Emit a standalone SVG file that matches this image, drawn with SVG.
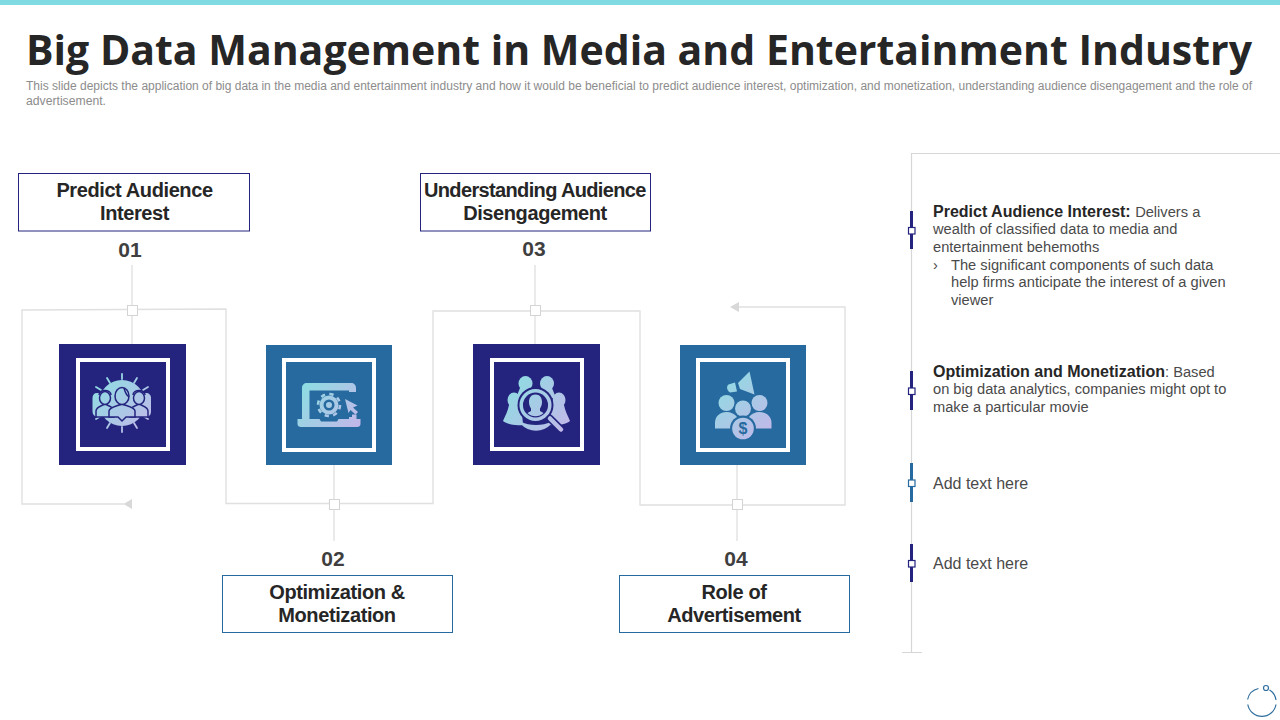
<svg xmlns="http://www.w3.org/2000/svg" width="1280" height="720" viewBox="0 0 1280 720">
<style>
text{font-family:"Liberation Sans",Arial,sans-serif}
.title{font-family:"Open Sans","Noto Sans",sans-serif;font-weight:700;font-size:42px;fill:#262626}
.sub{font-size:12px;fill:#8c8c8c}
.lab{font-size:20px;font-weight:700;fill:#262626;text-anchor:middle;letter-spacing:-0.400px}
.num{font-size:21px;font-weight:700;fill:#3f3f3f;text-anchor:middle}
.body{font-size:14.670px;fill:#4a4a4a}
.body .b{font-size:16px;font-weight:700;fill:#262626}
.add{font-size:16px;fill:#4a4a4a}
.wire{fill:none;stroke:#e0e0e0;stroke-width:1.400}
.stem{fill:none;stroke:#dcdcdc;stroke-width:1.200}
.sq{fill:#fff;stroke:#d4d4d4;stroke-width:1}
.arr{fill:#d8d8d8}
.navy{fill:#24247f}
.blue{fill:#266a9f}
.frame{fill:none;stroke:#fff;stroke-width:4}
.lbn{fill:#fff;stroke:#24247f;stroke-width:1}
.lbb{fill:#fff;stroke:#266a9f;stroke-width:1}
.rule{fill:none;stroke:#d6d6d6;stroke-width:1.200}
</style>
<defs>
<linearGradient id="g1" gradientUnits="userSpaceOnUse" x1="95" y1="375" x2="150" y2="432"><stop offset="0" stop-color="#8adfe2"/><stop offset="1" stop-color="#c5b6e9"/></linearGradient>
<linearGradient id="g2" gradientUnits="userSpaceOnUse" x1="300" y1="383" x2="360" y2="428"><stop offset="0" stop-color="#8adfe2"/><stop offset="1" stop-color="#c5b6e9"/></linearGradient>
<linearGradient id="g3" gradientUnits="userSpaceOnUse" x1="505" y1="378" x2="570" y2="432"><stop offset="0" stop-color="#8adfe2"/><stop offset="1" stop-color="#c5b6e9"/></linearGradient>
<linearGradient id="g4" gradientUnits="userSpaceOnUse" x1="715" y1="375" x2="772" y2="435"><stop offset="0" stop-color="#8adfe2"/><stop offset="1" stop-color="#c5b6e9"/></linearGradient>
</defs>
<rect id="top-bar" x="0" y="0" width="1280" height="5" fill="#7fdae2"/>
<text class="title" x="26" y="65" textLength="1226" lengthAdjust="spacingAndGlyphs">Big Data Management in Media and Entertainment Industry</text>
<text class="sub" x="26" y="90" textLength="1226" lengthAdjust="spacingAndGlyphs">This slide depicts the application of big data in the media and entertainment industry and how it would be beneficial to predict audience interest, optimization, and monetization, understanding audience disengagement and the role of</text>
<text class="sub" x="26" y="105" textLength="80" lengthAdjust="spacingAndGlyphs">advertisement.</text>

<g id="connectors">
<path class="wire" d="M124 504H22V310L226 309V503.500H433V311H640V505H845V307H738"/>
<path class="stem" d="M132 265V344M334 465V541M535 265V344M737 465V541"/>
<path class="arr" d="M123.500 504L132 499V509Z"/>
<path class="arr" d="M730 307L739 302V312Z"/>
<rect class="sq" x="127.500" y="305.500" width="10" height="10"/>
<rect class="sq" x="329.500" y="499.500" width="10" height="10"/>
<rect class="sq" x="530.500" y="305.500" width="10" height="10"/>
<rect class="sq" x="732.500" y="499.500" width="10" height="10"/>
</g>

<g id="node-1">
<rect class="lbn" x="18.500" y="173.500" width="231" height="57.500"/>
<text class="lab" x="134.500" y="197">Predict Audience</text>
<text class="lab" x="134.500" y="220">Interest</text>
<text class="num" x="130" y="257">01</text>
<rect class="navy" x="59" y="344" width="127" height="121"/>
<rect class="frame" x="78" y="360" width="90" height="89"/>
<g fill="url(#g1)" stroke="none">
<path stroke="url(#g1)" stroke-width="1.800" stroke-linecap="round" fill="none" d="M122 374V379M107 378L110 383M137 378L134 383M96 387L101 390M148 387L143 390M122 432V427M107 428L110 423M137 428L134 423M96 419L101 416M148 419L143 416"/>
<circle cx="122" cy="403" r="23"/>
<path d="M97 393C94 393 92.500 395 92.500 398V411C92.500 415 95 417 99 417H145C149 417 151 415 151 411V398C151 395 149 393 146 393Z"/>
</g>
<g stroke="#24247f" stroke-width="1.500" fill="url(#g1)">
<path d="M96 417V411C96 407 101 406 105 404C109 406 114 407 114 411V417Z"/>
<path d="M130 417V411C130 407 135 406 139 404C143 406 148 407 148 411V417Z"/>
<path fill="none" d="M99 395C99 389 111 389 111 395M133 395C133 389 145 389 145 395"/>
<ellipse cx="105" cy="398" rx="5.500" ry="6.500"/>
<ellipse cx="139" cy="398" rx="5.500" ry="6.500"/>
<path d="M109 417V411C109 407 117 406 122 404C127 406 135 407 135 411V417H126L122 421L118 417Z"/>
<ellipse cx="122" cy="396" rx="7" ry="8.500"/>
<path fill="none" d="M124 388C125 392 126 395 129 397"/>
</g>
</g>

<g id="node-2">
<rect class="lbb" x="222.500" y="575.500" width="230" height="57"/>
<text class="lab" x="337" y="599">Optimization &amp;</text>
<text class="lab" x="337" y="622">Monetization</text>
<text class="num" x="333" y="566">02</text>
<rect class="blue" x="266" y="345" width="126" height="120"/>
<rect class="frame" x="284" y="360" width="90" height="90"/>
<path fill="url(#g2)" fill-rule="evenodd" d="M307 383H351C354 383 356 385 356 388V420H302V388C302 385 304 383 307 383ZM309.500 390.500V420H349V390.500Z"/>
<path fill="url(#g2)" d="M297.500 419H319.500L321 421.500H337L338.500 419H360.500V424C360.500 426 359 427 357 427H301C299 427 297.500 426 297.500 424Z"/>
<circle cx="329" cy="405" r="11" fill="none" stroke="url(#g2)" stroke-width="2.600" stroke-dasharray="4.300 4.340"/>
<circle cx="329" cy="405" r="9.500" fill="url(#g2)"/>
<circle cx="329" cy="405" r="5.500" fill="#266a9f"/>
<circle cx="329" cy="405" r="3" fill="url(#g2)"/>
<path fill="#266a9f" d="M347 392H358V417H349V410H344V394Z"/>
<path fill="url(#g2)" d="M345 399L357.500 405.500L353 407.500L358 412L355.500 414.500L350.500 410L348.500 413Z"/>
<rect x="352" y="414.500" width="4.500" height="5" fill="url(#g2)"/>
</g>

<g id="node-3">
<rect class="lbn" x="420.500" y="173.500" width="230" height="57.500"/>
<text class="lab" x="535" y="197" textLength="222" lengthAdjust="spacing">Understanding Audience</text>
<text class="lab" x="535" y="220">Disengagement</text>
<text class="num" x="534" y="256">03</text>
<rect class="navy" x="473" y="344" width="127" height="121"/>
<rect class="frame" x="492" y="360" width="90" height="89"/>
<g fill="url(#g3)">
<ellipse cx="525.500" cy="383.500" rx="7" ry="7.500"/>
<ellipse cx="547" cy="383.500" rx="7" ry="7.500"/>
<path d="M520 388H552L556 398H516Z"/>
<ellipse cx="514" cy="400" rx="6.500" ry="7.500"/>
<ellipse cx="559" cy="400" rx="6.500" ry="7.500"/>
<path d="M509 405C508 411 505 416 503 421C507 424 514 426 523 425L521 400Z"/>
<path d="M564 405C565 411 568 416 570 421C566 424 559 426 550 425L552 400Z"/>
</g>
<circle cx="535.500" cy="405" r="18" fill="#24247f"/>
<path d="M521 423C530 432 542 432 551 423C543 427 529 427 521 423Z" fill="url(#g3)" stroke="url(#g3)" stroke-width="2"/>
<circle cx="535.500" cy="405" r="14.300" fill="none" stroke="url(#g3)" stroke-width="3.500"/>
<path fill="url(#g3)" d="M535.500 394.500C540 394.500 542 398 542 402C542 405 541 407 540 408.500V411L543.500 413A11.500 11.500 0 0 1 527.500 413L531 411V408.500C530 407 529 405 529 402C529 398 531 394.500 535.500 394.500Z"/>
<path d="M550 418.500L561 429.500" stroke="#24247f" stroke-width="7.500" stroke-linecap="round" fill="none"/>
<path d="M550 418.500L561 429.500" stroke="url(#g3)" stroke-width="4.500" stroke-linecap="round" fill="none"/>
</g>

<g id="node-4">
<rect class="lbb" x="619.500" y="575.500" width="230" height="57"/>
<text class="lab" x="734" y="599">Role of</text>
<text class="lab" x="734" y="622">Advertisement</text>
<text class="num" x="736" y="566">04</text>
<rect class="blue" x="680" y="345" width="126" height="120"/>
<rect class="frame" x="698" y="360" width="90" height="90"/>
<g fill="url(#g4)">
<path d="M749.500 371.500L754.500 394.500L740 389L738 383Z"/>
<path d="M728.500 384.500L735 382.500L737 391.500L730 392.500C727 391 726 386 728.500 384.500Z"/>
<circle cx="726.500" cy="403" r="8"/>
<circle cx="759.500" cy="403" r="8"/>
<path d="M715 428.500V423C715 416 720 412 726.500 412C731 412 735 414 737 417V428.500Z"/>
<path d="M771.500 428.500V423C771.500 416 766 412 759.500 412C755 412 751 414 749 417V428.500Z"/>
</g>
<circle cx="743" cy="408.500" r="9.500" fill="#266a9f"/>
<circle cx="743" cy="408.500" r="8" fill="url(#g4)"/>
<circle cx="743" cy="428.500" r="13" fill="#266a9f"/>
<circle cx="743" cy="428.500" r="10.800" fill="url(#g4)"/>
<text x="743" y="434" text-anchor="middle" font-size="16" font-weight="700" style="fill:#266a9f">$</text>
</g>

<g id="panel">
<path class="rule" d="M1280 153.500H911.500V652.500M902 652.500H922"/>
<g id="item-1">
<rect class="navy" x="910" y="211" width="3" height="38"/>
<rect x="908.500" y="227.500" width="6.500" height="6.500" fill="#fff" stroke="#24247f" stroke-width="1.200"/>
<text class="body" x="933" y="216.500"><tspan class="b">Predict Audience Interest: </tspan>Delivers a</text>
<text class="body" x="933" y="234">wealth of classified data to media and</text>
<text class="body" x="933" y="252">entertainment behemoths</text>
<text class="body" x="933" y="269.500">›</text>
<text class="body" x="951" y="269.500">The significant components of such data</text>
<text class="body" x="951" y="287">help firms anticipate the interest of a given</text>
<text class="body" x="951" y="305">viewer</text>
</g>
<g id="item-2">
<rect class="navy" x="910" y="371" width="3" height="39"/>
<rect x="908.500" y="388" width="6.500" height="6.500" fill="#fff" stroke="#24247f" stroke-width="1.200"/>
<text class="body" x="933" y="376.500"><tspan class="b">Optimization and Monetization</tspan>: Based</text>
<text class="body" x="933" y="394">on big data analytics, companies might opt to</text>
<text class="body" x="933" y="412">make a particular movie</text>
</g>
<g id="item-3">
<rect class="blue" x="910" y="463" width="3" height="39"/>
<rect x="908.500" y="480" width="6.500" height="6.500" fill="#fff" stroke="#266a9f" stroke-width="1.200"/>
<text class="add" x="933" y="489">Add text here</text>
</g>
<g id="item-4">
<rect class="navy" x="910" y="544" width="3" height="38"/>
<rect x="908.500" y="560.500" width="6.500" height="6.500" fill="#fff" stroke="#24247f" stroke-width="1.200"/>
<text class="add" x="933" y="569">Add text here</text>
</g>
</g>

<g id="corner-mark" fill="none" stroke="#2f6f9f" stroke-width="1.200">
<path d="M1247.600 699.500A14.300 14.300 0 0 1 1258.500 688.500"/>
<path d="M1269.500 690A14.300 14.300 0 0 1 1276 700"/>
<path d="M1276 704.500A14.300 14.300 0 0 1 1247.800 704.500"/>
<circle cx="1266" cy="688" r="2.500"/>
</g>
</svg>
